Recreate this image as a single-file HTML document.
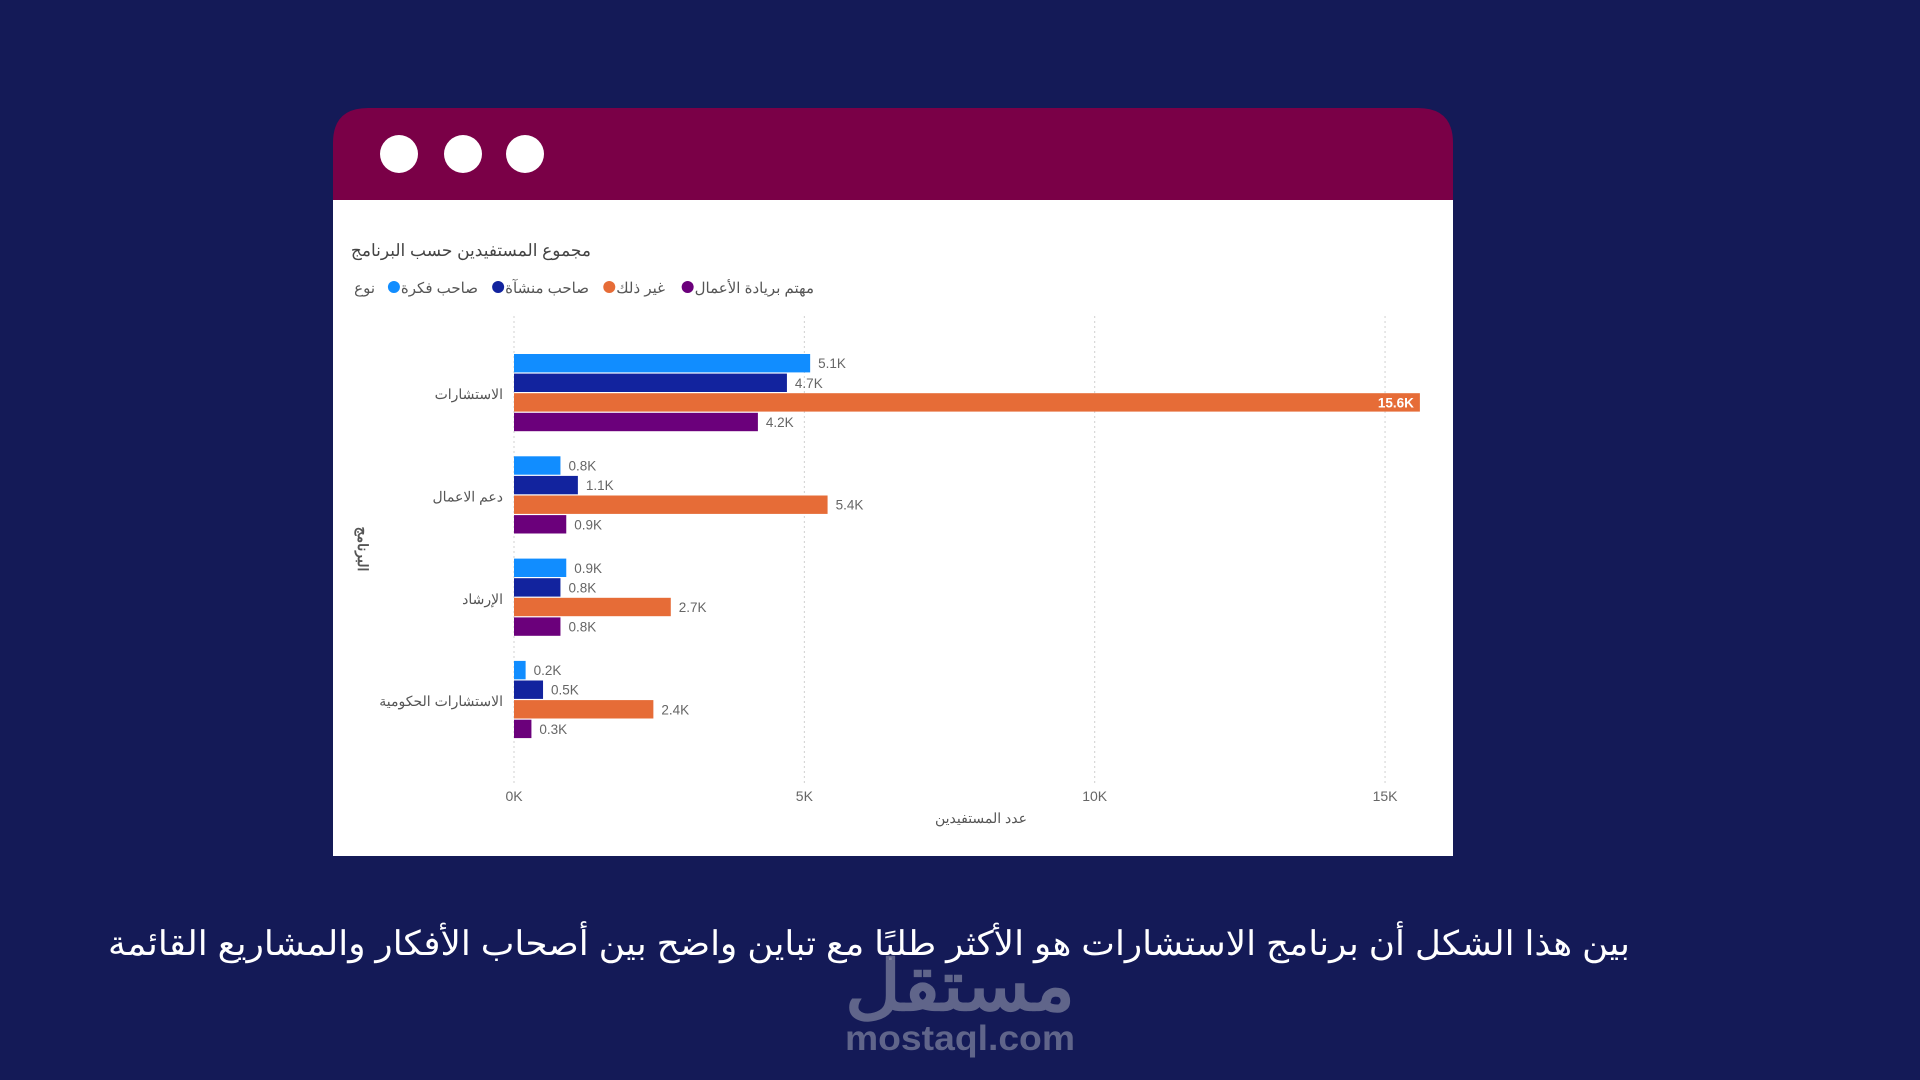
<!DOCTYPE html>
<html lang="ar"><head><meta charset="utf-8">
<style>
html,body{margin:0;padding:0;width:1920px;height:1080px;overflow:hidden;background:#141a57;font-family:"Liberation Sans","Noto Sans CJK SC",sans-serif;}
svg{position:absolute;left:0;top:0}
</style></head><body>
<svg id="s" width="1920" height="1080" xmlns="http://www.w3.org/2000/svg">
  <g>
    <rect x="333" y="200" width="1120" height="656" fill="#ffffff"/>
    <path d="M333,200 V143 Q333,108 368,108 H1418 Q1453,108 1453,143 V200 Z" fill="#7a0047"/>
    <circle cx="399" cy="154" r="19" fill="#fff"/>
    <circle cx="463" cy="154" r="19" fill="#fff"/>
    <circle cx="525" cy="154" r="19" fill="#fff"/>
  </g>
  <text x="591" y="256" text-anchor="end" font-size="17" fill="#444">مجموع المستفيدين حسب البرنامج</text>
  <g id="legend"></g>
  <g id="grid"></g>
  <g id="bars"></g>
  <text x="981" y="823" text-anchor="middle" font-size="14" fill="#555">عدد المستفيدين</text>
  <text transform="translate(358,549) rotate(90)" text-anchor="middle" font-size="14" font-weight="bold" fill="#555">البرنامج</text>
  <text x="1630" y="955" text-anchor="end" font-size="34" fill="#ffffff" textLength="1522" lengthAdjust="spacingAndGlyphs">بين هذا الشكل أن برنامج الاستشارات هو الأكثر طلبًا مع تباين واضح بين أصحاب الأفكار والمشاريع القائمة</text>
  <text x="960" y="1010" text-anchor="middle" font-size="70" font-weight="bold" fill="#6e7394" opacity="0.85" textLength="230" lengthAdjust="spacingAndGlyphs">مستقل</text>
  <text x="960" y="1050" text-anchor="middle" font-size="35" font-weight="bold" fill="#6e7394" opacity="0.85" textLength="230" lengthAdjust="spacingAndGlyphs">mostaql.com</text>
</svg>
<script>
const categories=["الاستشارات","دعم الاعمال","الإرشاد","الاستشارات الحكومية"];
const seriesNames=["صاحب فكرة","صاحب منشآة","غير ذلك","مهتم بريادة الأعمال"];
const ideaOwner=[5.1,0.8,0.9,0.2];
const businessOwner=[4.7,1.1,0.8,0.5];
const other=[15.6,5.4,2.7,2.4];
const entrepreneur=[4.2,0.9,0.8,0.3];
const ticks=[0,5,10,15];
const tickLabels=["0K","5K","10K","15K"];
const colors=["#118dff","#12239e","#e66c37","#6b007b"];
const series=[ideaOwner,businessOwner,other,entrepreneur];
const NS="http://www.w3.org/2000/svg";
const x0=514,pxPerK=58.07;
function xs(v){return x0+v*pxPerK;}
const groupTop=354,groupStep=102.3,barStep=19.6,barH=18.4;
function ys(ci,si){return groupTop+ci*groupStep+si*barStep;}
function mk(tag,attrs,parent){const e=document.createElementNS(NS,tag);for(const k in attrs)e.setAttribute(k,attrs[k]);parent.appendChild(e);return e;}
const grid=document.getElementById('grid'),bars=document.getElementById('bars'),legend=document.getElementById('legend');
ticks.forEach((t,i)=>{
  const l=mk('line',{x1:xs(t),x2:xs(t),y1:316,y2:784,stroke:'#d0d0d0','stroke-dasharray':'2,3'},grid);
  
  
  const tx=mk('text',{x:xs(t),y:801,'text-anchor':'middle','font-size':14,fill:'#666'},grid);
  tx.textContent=tickLabels[i];
  
  
});
categories.forEach((c,ci)=>{
  const lab=mk('text',{x:503,y:ys(ci,2)+6,'text-anchor':'end','font-size':14,fill:'#555'},bars);
  lab.textContent=c;
  
  
  series.forEach((arr,si)=>{
    const v=arr[ci],y=ys(ci,si);
    const r=mk('rect',{x:x0,y:y,width:xs(v)-x0,height:barH,fill:colors[si]},bars);
    
    
    const inside=v>12;
    const t=mk('text',{x:inside?xs(v)-6:xs(v)+8,y:y+barH/2+5,'text-anchor':inside?'end':'start','font-size':13.5,fill:inside?'#fff':'#666','font-weight':inside?'bold':'normal'},bars);
    t.textContent=v.toFixed(1)+'K';
    
    
  });
});
const legX=[814,665,589,478];
const order=[3,2,1,0];
order.forEach((si,k)=>{
  const rx=legX[k];
  const tx=mk('text',{x:rx,y:293,'text-anchor':'end','font-size':15,fill:'#555'},legend);
  tx.textContent=seriesNames[si];
  
  
  const w=tx.getComputedTextLength();
  const c=mk('circle',{cx:rx-w-7,cy:287,r:6,fill:colors[si]},legend);
  
  
});
const lt=mk('text',{x:375,y:293,'text-anchor':'end','font-size':15,fill:'#555'},legend);
lt.textContent='نوع';


</script>
</body></html>
